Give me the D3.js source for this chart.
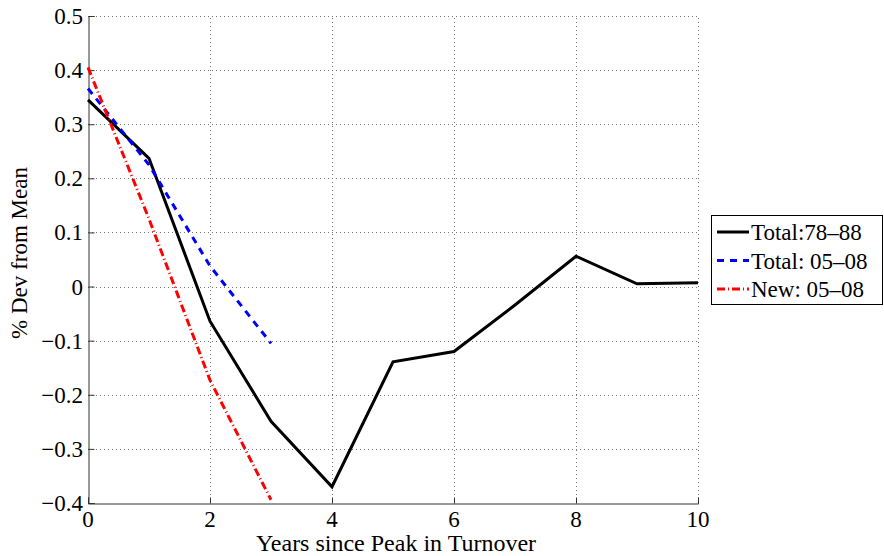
<!DOCTYPE html>
<html>
<head>
<meta charset="utf-8">
<script src="https://cdn.jsdelivr.net/npm/d3@7"></script>
<style>
  body { margin: 0; background: #fff; }
</style>
</head>
<body>
<svg id="chart"></svg>
<script>
// values
const years = [0, 1, 2, 3, 4, 5, 6, 7, 8, 9, 10];
const total7888 = [0.345, 0.237, -0.064, -0.249, -0.37, -0.139, -0.12, -0.034, 0.056, 0.005, 0.007];
const yearsShort = [0, 1, 2, 3];
const total0508 = [0.366, 0.225, 0.038, -0.105];
const new0508 = [0.405, 0.125, -0.173, -0.394];
const xTicks = [0, 2, 4, 6, 8, 10];
const yTicks = [-0.4, -0.3, -0.2, -0.1, 0, 0.1, 0.2, 0.3, 0.4, 0.5];
const seriesNames = ["Total:78\u201388", "Total: 05\u201308", "New: 05\u201308"];

const width = 884, height = 556;
const margin = { left: 88, right: 186, top: 16, bottom: 53 };
const font = "'Liberation Serif', 'DejaVu Serif', serif";

const svg = d3.select("#chart").attr("width", width).attr("height", height);

const x = d3.scaleLinear().domain([0, 10]).range([margin.left, width - margin.right]);
const y = d3.scaleLinear().domain([-0.4, 0.5]).range([height - margin.bottom, margin.top]);

// grid
const grid = svg.append("g").attr("stroke", "#777").attr("stroke-width", 1).attr("stroke-dasharray", "1,3");
grid.selectAll(".gx").data(xTicks.slice(1)).enter().append("line")
  .attr("x1", d => x(d) + 0.5).attr("x2", d => x(d) + 0.5)
  .attr("y1", y(-0.4)).attr("y2", y(0.5));
grid.selectAll(".gy").data(yTicks.slice(1)).enter().append("line")
  .attr("x1", x(0)).attr("x2", x(10))
  .attr("y1", d => Math.round(y(d)) + 0.5).attr("y2", d => Math.round(y(d)) + 0.5);

// axes, ticks pointing inward
const xAxis = d3.axisTop(x).tickValues(xTicks).tickSize(6).tickFormat("");
const yAxis = d3.axisRight(y).tickValues(yTicks).tickSize(6).tickFormat("");

svg.append("g")
  .attr("transform", `translate(0, ${Math.round(y(-0.4)) + 0.5})`)
  .call(xAxis)
  .call(g => g.select(".domain").attr("stroke", "#333"))
  .call(g => g.selectAll(".tick line").attr("stroke", "#333"));

svg.append("g")
  .attr("transform", `translate(${x(0) + 0.5}, 0)`)
  .call(yAxis)
  .call(g => g.select(".domain").attr("stroke", "#333"))
  .call(g => g.selectAll(".tick line").attr("stroke", "#333"));

// tick labels
svg.selectAll(".xl").data(xTicks).enter().append("text")
  .attr("x", d => x(d)).attr("y", y(-0.4) + 24)
  .attr("text-anchor", "middle")
  .attr("font-family", font).attr("font-size", 23)
  .text(d => d);

svg.selectAll(".yl").data(yTicks).enter().append("text")
  .attr("x", x(0) - 5).attr("y", d => y(d) + 8)
  .attr("text-anchor", "end")
  .attr("font-family", font).attr("font-size", 23)
  .text(d => d === 0 ? "0" : d3.format(".1f")(d).replace("-", "\u2013"));

// axis titles
svg.append("text")
  .attr("x", 396).attr("y", 551)
  .attr("text-anchor", "middle")
  .attr("font-family", font).attr("font-size", 24)
  .text("Years since Peak in Turnover");

svg.append("text")
  .attr("transform", `translate(27, 253) rotate(-90)`)
  .attr("text-anchor", "middle")
  .attr("font-family", font).attr("font-size", 23)
  .text("% Dev from Mean");

// lines
const line = d3.line().x(d => x(d[0])).y(d => y(d[1]));

svg.append("path")
  .datum(d3.zip(years, total7888))
  .attr("fill", "none").attr("stroke", "#000").attr("stroke-width", 3)
  .attr("d", line);

svg.append("path")
  .datum(d3.zip(yearsShort, total0508))
  .attr("fill", "none").attr("stroke", "#0000ff").attr("stroke-width", 3)
  .attr("stroke-dasharray", "7,6")
  .attr("d", line);

svg.append("path")
  .datum(d3.zip(yearsShort, new0508))
  .attr("fill", "none").attr("stroke", "#ff0000").attr("stroke-width", 3)
  .attr("stroke-dasharray", "8,3,1,3")
  .attr("d", line);

// legend
const legend = svg.append("g").attr("transform", "translate(711, 215)");
legend.append("rect")
  .attr("x", 0.5).attr("y", 0.5).attr("width", 171).attr("height", 89)
  .attr("fill", "#fff").attr("stroke", "#000").attr("stroke-width", 1);

const styles = [
  { color: "#000", dash: null },
  { color: "#0000ff", dash: "7,6" },
  { color: "#ff0000", dash: "8,3,1,3" }
];
seriesNames.forEach((name, i) => {
  const cy = 17 + i * 28.5;
  legend.append("line")
    .attr("x1", 6).attr("x2", 38).attr("y1", cy).attr("y2", cy)
    .attr("stroke", styles[i].color).attr("stroke-width", 3)
    .attr("stroke-dasharray", styles[i].dash);
  legend.append("text")
    .attr("x", 40).attr("y", cy + 8)
    .attr("font-family", font).attr("font-size", 23)
    .text(name);
});
</script>
</body>
</html>
